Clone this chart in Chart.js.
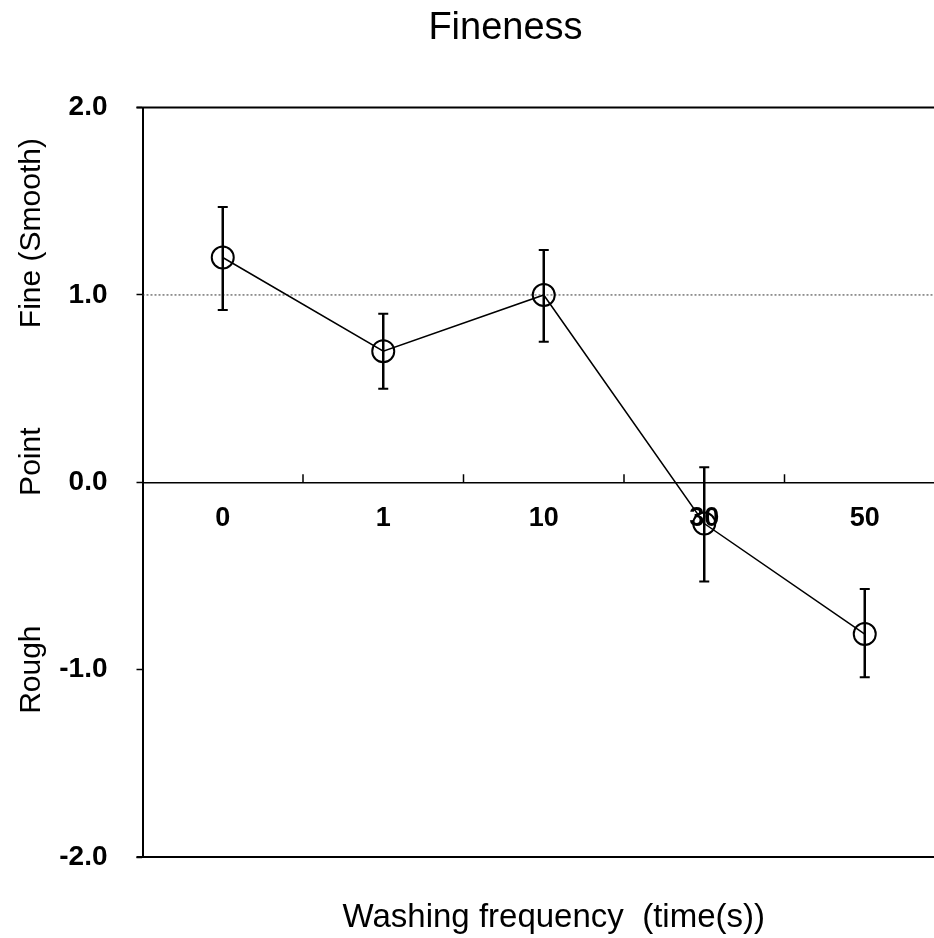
<!DOCTYPE html>
<html>
<head>
<meta charset="utf-8">
<title>Fineness</title>
<script src="https://cdn.jsdelivr.net/npm/chart.js@4.4.1/dist/chart.umd.min.js"></script>
<style>
  html, body { margin: 0; padding: 0; background: #fff; overflow: hidden; }
  #wrap { width: 934px; height: 938px; overflow: hidden; }
  canvas { display: block; }
</style>
</head>
<body>
<div id="wrap"><canvas id="fineness" width="1011" height="938"></canvas></div>
<script>
// Washing frequency categories and mean fineness scores
const categories = ['0', '1', '10', '30', '50'];
const meanScore  = [1.20, 0.70, 1.00, -0.22, -0.81];
const errUpper   = [1.47, 0.90, 1.24, 0.08, -0.57];
const errLower   = [0.92, 0.50, 0.75, -0.53, -1.04];

const yTicks     = [-2, -1, 0, 1, 2];
const refLine    = 1.0;
const sideLabels = ['Fine (Smooth)', 'Point', 'Rough'];
const sideAt     = [1.33, 0.11, -1.0];

const chartTitle = 'Fineness';
const xTitle     = 'Washing frequency  (time(s))';

const FONT = "'Liberation Sans', Arial, Helvetica, sans-serif";
const INK  = '#000';

// Box, reference line, upward category ticks, error bars and side captions
const decorations = {
  id: 'decorations',
  beforeDatasetsDraw(chart) {
    const { ctx, chartArea: a, scales: { x, y } } = chart;
    ctx.save();

    // dotted line at 1.0
    const yr = y.getPixelForValue(refLine);
    ctx.strokeStyle = '#333';
    ctx.lineWidth = 1;
    ctx.setLineDash([2, 2]);
    ctx.beginPath();
    ctx.moveTo(a.left, yr);
    ctx.lineTo(a.right, yr);
    ctx.stroke();
    ctx.setLineDash([]);

    // top and bottom frame
    ctx.strokeStyle = INK;
    ctx.lineWidth = 2;
    ctx.beginPath();
    ctx.moveTo(a.left - 6, a.top);
    ctx.lineTo(a.right, a.top);
    ctx.moveTo(a.left - 6, a.bottom);
    ctx.lineTo(a.right, a.bottom);
    ctx.stroke();

    // small ticks on the zero line between categories
    const y0 = y.getPixelForValue(0);
    ctx.lineWidth = 1.5;
    ctx.beginPath();
    for (let i = 0; i < categories.length - 1; i++) {
      const xm = (x.getPixelForValue(i) + x.getPixelForValue(i + 1)) / 2;
      ctx.moveTo(xm, y0);
      ctx.lineTo(xm, y0 - 8);
    }
    ctx.stroke();
    ctx.restore();
  },
  afterDatasetsDraw(chart) {
    const { ctx, chartArea: a, scales: { x, y } } = chart;
    ctx.save();
    ctx.strokeStyle = INK;

    // error bars
    categories.forEach((_, i) => {
      const px = x.getPixelForValue(i);
      const top = y.getPixelForValue(errUpper[i]);
      const bot = y.getPixelForValue(errLower[i]);
      ctx.lineWidth = 2.5;
      ctx.beginPath();
      ctx.moveTo(px, top);
      ctx.lineTo(px, bot);
      ctx.stroke();
      ctx.lineWidth = 2;
      ctx.beginPath();
      ctx.moveTo(px - 5, top);
      ctx.lineTo(px + 5, top);
      ctx.moveTo(px - 5, bot);
      ctx.lineTo(px + 5, bot);
      ctx.stroke();
    });

    // rotated captions along the y axis
    ctx.fillStyle = INK;
    ctx.font = `30px ${FONT}`;
    ctx.textAlign = 'center';
    ctx.textBaseline = 'middle';
    sideLabels.forEach((t, i) => {
      ctx.save();
      ctx.translate(32, y.getPixelForValue(sideAt[i]));
      ctx.rotate(-Math.PI / 2);
      ctx.fillText(t, 0, 0);
      ctx.restore();
    });

    // x axis title
    ctx.font = `33px ${FONT}`;
    ctx.textBaseline = 'alphabetic';
    ctx.fillText(xTitle, (a.left + a.right) / 2 + 10, 927);
    ctx.restore();
  }
};

new Chart(document.getElementById('fineness'), {
  type: 'line',
  data: {
    labels: categories,
    datasets: [{
      data: meanScore,
      borderColor: INK,
      borderWidth: 1.5,
      tension: 0,
      pointRadius: 11,
      pointHoverRadius: 11,
      pointBorderWidth: 2,
      pointBorderColor: INK,
      pointBackgroundColor: 'rgba(0,0,0,0)',
    }],
  },
  options: {
    responsive: false,
    animation: false,
    devicePixelRatio: 1,
    layout: { padding: { left: 0, right: 0, top: 0, bottom: 81 } },
    plugins: {
      legend: { display: false },
      tooltip: { enabled: false },
      title: {
        display: true,
        text: chartTitle,
        color: INK,
        font: { family: FONT, size: 38, weight: 'normal' },
        padding: { top: 6, bottom: 56 },
      },
    },
    scales: {
      x: {
        type: 'category',
        position: { y: 0 },
        offset: true,
        grid: { display: false, drawTicks: false },
        border: { display: true, color: INK, width: 1.5 },
        ticks: {
          color: INK,
          padding: 20,
          maxRotation: 0,
          font: { family: FONT, size: 27, weight: 'bold' },
        },
      },
      y: {
        min: -2,
        max: 2,
        afterFit(scale) { scale.width = 142.5; },
        afterBuildTicks(scale) { scale.ticks = yTicks.map(v => ({ value: v })); },
        grid: {
          drawOnChartArea: false,
          drawTicks: true,
          tickLength: 6,
          tickColor: INK,
          tickWidth: 1.5,
        },
        border: { display: true, color: INK, width: 2 },
        ticks: {
          color: INK,
          padding: 29,
          font: { family: FONT, size: 28, weight: 'bold' },
          callback: v => v.toFixed(1),
        },
      },
      // empty right-hand gutter so the plot runs past the visible edge
      gutter: {
        type: 'linear',
        position: 'right',
        display: true,
        afterFit(scale) { scale.width = 66; },
        grid: { display: false, drawTicks: false },
        border: { display: false },
        ticks: { display: false },
      },
    },
  },
  plugins: [decorations],
});
</script>
</body>
</html>
